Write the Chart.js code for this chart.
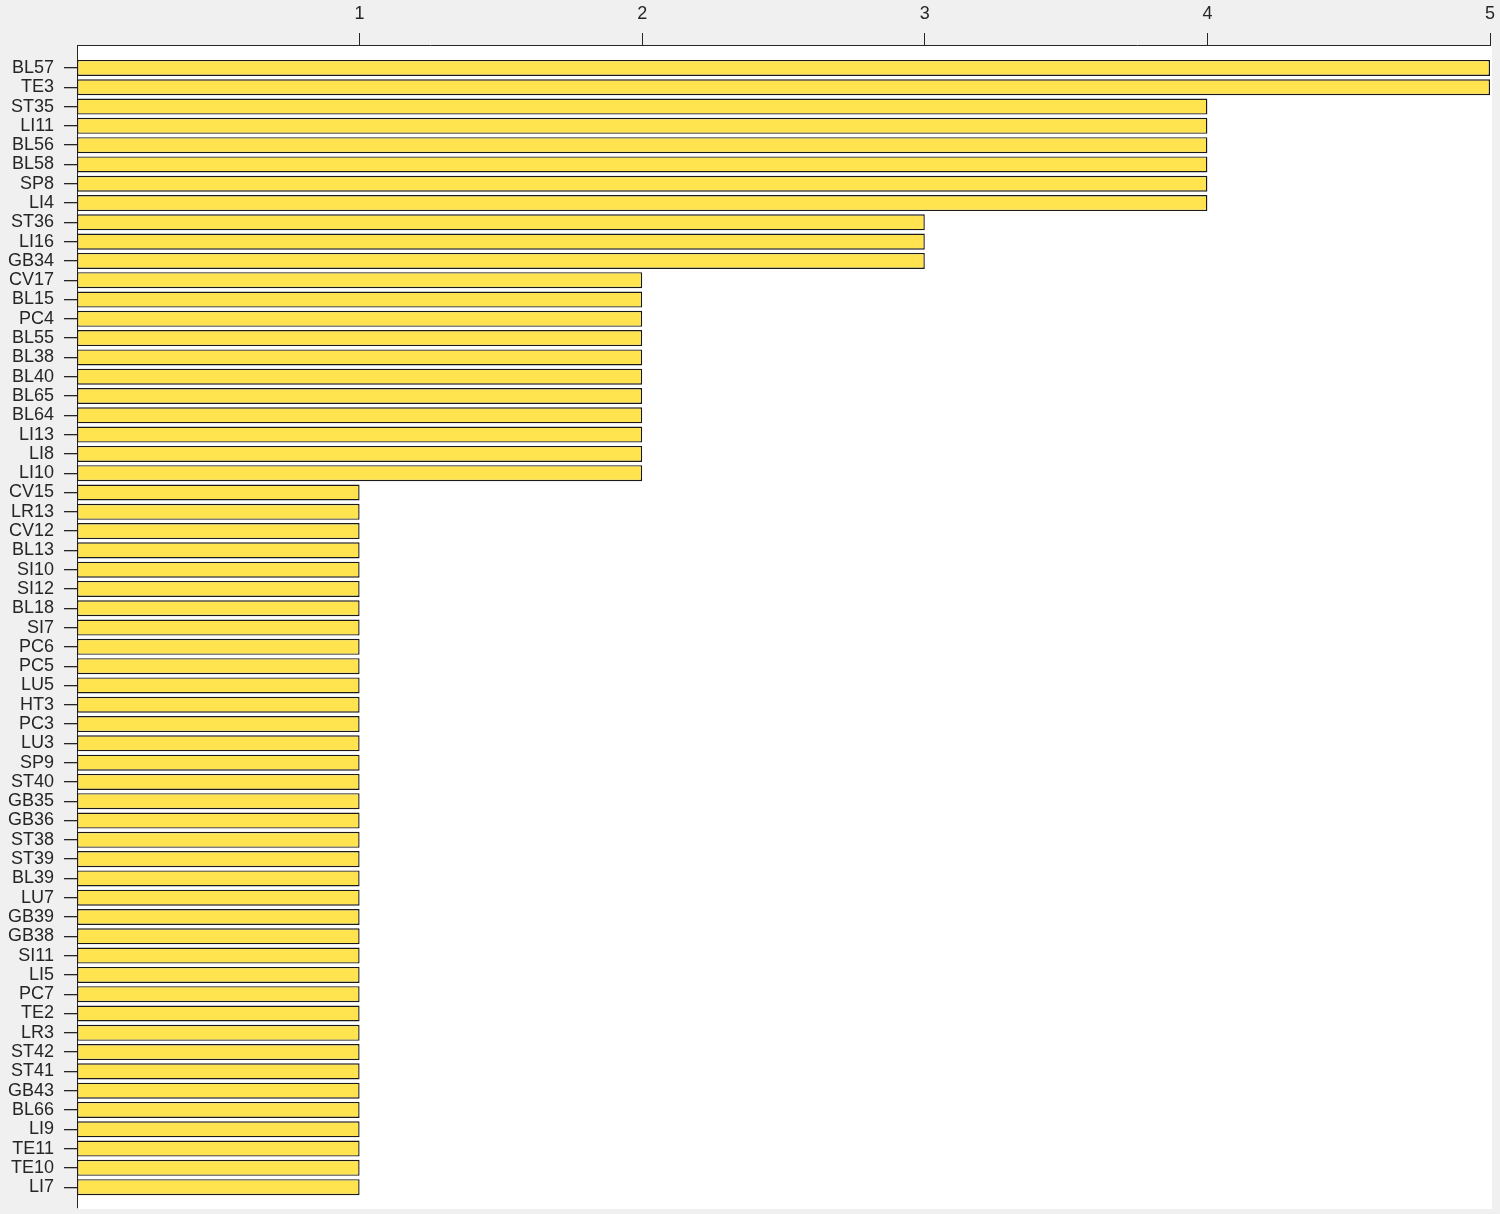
<!DOCTYPE html>
<html>
<head>
<meta charset="utf-8">
<script src="https://cdn.jsdelivr.net/npm/chart.js@4/dist/chart.umd.min.js"></script>
<style>
  html, body { margin: 0; padding: 0; background: #f0f0f0; }
  canvas { display: block; }
</style>
</head>
<body>
<canvas id="c" width="1500" height="1214"></canvas>
<script>
const categories = ["BL57","TE3","ST35","LI11","BL56","BL58","SP8","LI4","ST36","LI16","GB34",
  "CV17","BL15","PC4","BL55","BL38","BL40","BL65","BL64","LI13","LI8","LI10",
  "CV15","LR13","CV12","BL13","SI10","SI12","BL18","SI7","PC6","PC5","LU5","HT3","PC3","LU3",
  "SP9","ST40","GB35","GB36","ST38","ST39","BL39","LU7","GB39","GB38","SI11","LI5","PC7","TE2",
  "LR3","ST42","ST41","GB43","BL66","LI9","TE11","TE10","LI7"];
const values = [5,5,4,4,4,4,4,4,3,3,3,
  2,2,2,2,2,2,2,2,2,2,2,
  1,1,1,1,1,1,1,1,1,1,1,1,1,1,
  1,1,1,1,1,1,1,1,1,1,1,1,1,1,
  1,1,1,1,1,1,1,1,1];
const xTicks = [1,2,3,4,5];

const plotBg = {
  id: 'plotBg',
  beforeDraw(chart) {
    const {ctx, chartArea: a} = chart;
    ctx.save();
    ctx.fillStyle = '#ffffff';
    ctx.fillRect(a.left, a.top, a.right - a.left + 2, a.bottom - a.top + 1);
    ctx.restore();
  }
};

new Chart(document.getElementById('c'), {
  type: 'bar',
  data: {
    datasets: [{
      data: values.map((v, i) => ({x: v, y: i})),
      backgroundColor: '#ffe44f',
      borderColor: '#1a1a1a',
      borderWidth: 1.4,
      borderSkipped: false,
      barPercentage: 0.83,
      categoryPercentage: 1.0
    }]
  },
  options: {
    indexAxis: 'y',
    responsive: false,
    animation: false,
    devicePixelRatio: 1,
    layout: { padding: { left: 0, top: 0, right: 10, bottom: 6 } },
    plugins: { legend: { display: false }, tooltip: { enabled: false } },
    scales: {
      x: {
        type: 'linear',
        position: 'top',
        min: 0, max: 5,
        afterBuildTicks: s => { s.ticks = xTicks.map(v => ({value: v})); },
        afterFit: s => { s.height = 45; s.paddingLeft = 0; s.paddingRight = 0; },
        grid: { drawOnChartArea: false, drawTicks: true, tickLength: 12, color: '#262626' },
        border: { display: true, color: '#262626', width: 1 },
        ticks: { color: '#262626', font: { family: 'Liberation Sans', size: 18 }, padding: 8, maxRotation: 0 }
      },
      y: {
        type: 'linear',
        reverse: true,
        offset: false,
        min: -1.19, max: categories.length - 1 + 1.08,
        afterBuildTicks: s => { s.ticks = categories.map((c, i) => ({value: i})); },
        afterFit: s => { s.width = 77; s.paddingTop = 0; s.paddingBottom = 0; },
        grid: { offset: false, drawOnChartArea: false, drawTicks: true, tickLength: 13, color: '#262626', lineWidth: 1.3 },
        border: { display: true, color: '#262626', width: 1 },
        ticks: {
          color: '#262626', font: { family: 'Liberation Sans', size: 18 }, padding: 10,
          autoSkip: false,
          callback: v => categories[v] ?? ''
        }
      }
    }
  },
  plugins: [plotBg]
});
</script>
</body>
</html>
